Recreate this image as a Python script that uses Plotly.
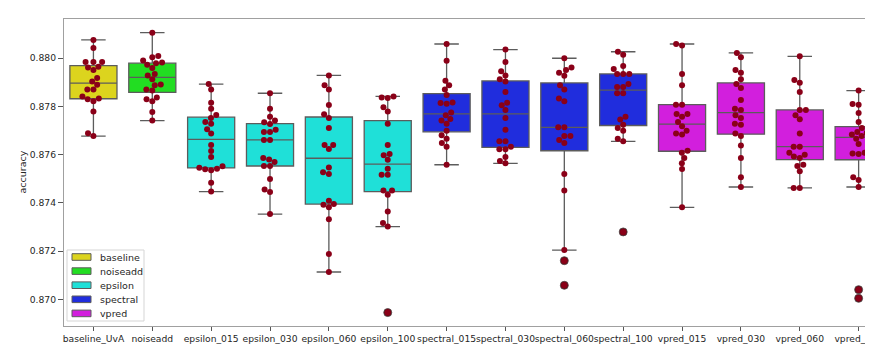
import numpy as np
import plotly.graph_objects as go

categories = ["baseline_UvA", "noiseadd", "epsilon_015", "epsilon_030", "epsilon_060", "epsilon_100",
              "spectral_015", "spectral_030", "spectral_060", "spectral_100",
              "vpred_015", "vpred_030", "vpred_060", "vpred_100"]
groups = ["baseline", "noiseadd", "epsilon", "epsilon", "epsilon", "epsilon",
          "spectral", "spectral", "spectral", "spectral",
          "vpred", "vpred", "vpred", "vpred"]
legend_groups = ["baseline", "noiseadd", "epsilon", "spectral", "vpred"]
group_colors = {"baseline": "#dcd41e", "noiseadd": "#22dd22", "epsilon": "#1fe0d8",
                "spectral": "#202ddd", "vpred": "#d21fdd"}

baseline_uva = [0.88075, 0.88041, 0.87983, 0.87983, 0.87983, 0.87964, 0.87961, 0.87950, 0.87917, 0.87903,
                0.87889, 0.87870, 0.87870, 0.87841, 0.87832, 0.87829, 0.87821, 0.87779, 0.87688, 0.87677]
noiseadd = [0.88105, 0.88008, 0.88003, 0.87990, 0.87981, 0.87978, 0.87972, 0.87959, 0.87934, 0.87928,
            0.87912, 0.87890, 0.87887, 0.87870, 0.87865, 0.87837, 0.87829, 0.87821, 0.87776, 0.87741]
epsilon_015 = [0.87892, 0.87870, 0.87815, 0.87790, 0.87764, 0.87752, 0.87735, 0.87728, 0.87705, 0.87687,
               0.87640, 0.87615, 0.87590, 0.87552, 0.87546, 0.87539, 0.87535, 0.87542, 0.87484, 0.87447]
epsilon_030 = [0.87854, 0.87790, 0.87757, 0.87741, 0.87734, 0.87727, 0.87703, 0.87694, 0.87694, 0.87661,
               0.87661, 0.87586, 0.87580, 0.87569, 0.87553, 0.87553, 0.87499, 0.87456, 0.87445, 0.87354]
epsilon_060 = [0.87928, 0.87887, 0.87870, 0.87805, 0.87767, 0.87752, 0.87710, 0.87640, 0.87640, 0.87623,
               0.87547, 0.87527, 0.87520, 0.87409, 0.87396, 0.87393, 0.87382, 0.87332, 0.87189, 0.87114]
epsilon_100 = [0.87841, 0.87837, 0.87834, 0.87796, 0.87779, 0.87728, 0.87640, 0.87603, 0.87597, 0.87579,
               0.87542, 0.87517, 0.87517, 0.87451, 0.87451, 0.87434, 0.87365, 0.87317, 0.87302, 0.86946]
spectral_015 = [0.88058, 0.87989, 0.87906, 0.87887, 0.87870, 0.87847, 0.87816, 0.87814, 0.87811, 0.87774,
                0.87763, 0.87747, 0.87741, 0.87728, 0.87699, 0.87680, 0.87666, 0.87648, 0.87633, 0.87558]
spectral_030 = [0.88035, 0.87983, 0.87945, 0.87928, 0.87912, 0.87903, 0.87859, 0.87815, 0.87804, 0.87785,
                0.87752, 0.87703, 0.87655, 0.87655, 0.87633, 0.87622, 0.87622, 0.87590, 0.87574, 0.87564]
spectral_060 = [0.87999, 0.87961, 0.87950, 0.87939, 0.87927, 0.87887, 0.87870, 0.87832, 0.87821, 0.87713,
                0.87713, 0.87677, 0.87677, 0.87661, 0.87648, 0.87520, 0.87451, 0.87205, 0.87161, 0.87059]
spectral_100 = [0.88026, 0.88014, 0.87967, 0.87954, 0.87934, 0.87934, 0.87934, 0.87892, 0.87880, 0.87880,
                0.87854, 0.87854, 0.87757, 0.87745, 0.87724, 0.87710, 0.87699, 0.87666, 0.87655, 0.87280]
vpred_015 = [0.88058, 0.88052, 0.87934, 0.87887, 0.87807, 0.87807, 0.87768, 0.87768, 0.87757, 0.87735,
             0.87717, 0.87699, 0.87687, 0.87683, 0.87616, 0.87608, 0.87586, 0.87564, 0.87540, 0.87382]
vpred_030 = [0.88021, 0.88003, 0.87950, 0.87939, 0.87912, 0.87892, 0.87876, 0.87826, 0.87790, 0.87785,
             0.87763, 0.87752, 0.87728, 0.87724, 0.87687, 0.87677, 0.87638, 0.87586, 0.87506, 0.87466]
vpred_060 = [0.88007, 0.87909, 0.87898, 0.87859, 0.87785, 0.87785, 0.87763, 0.87746, 0.87687, 0.87633,
             0.87633, 0.87608, 0.87600, 0.87592, 0.87586, 0.87558, 0.87553, 0.87531, 0.87462, 0.87462]
vpred_100 = [0.87865, 0.87810, 0.87807, 0.87772, 0.87735, 0.87710, 0.87694, 0.87690, 0.87683, 0.87677,
             0.87666, 0.87644, 0.87608, 0.87605, 0.87603, 0.87506, 0.87495, 0.87466, 0.87041, 0.87005]

series = [baseline_uva, noiseadd, epsilon_015, epsilon_030, epsilon_060, epsilon_100,
          spectral_015, spectral_030, spectral_060, spectral_100,
          vpred_015, vpred_030, vpred_060, vpred_100]

y_ticks = [0.870, 0.872, 0.874, 0.876, 0.878, 0.880]

# ---------------- layout geometry ----------------
W, H = 873, 344
ML, MR, MT, MB = 56, 0, 11, 26
PW, PH = W - ML - MR, H - MT - MB
x_range = [-0.5, 13.38]
y_range = [0.868905, 0.881615]
px_per_x = PW / (x_range[1] - x_range[0])
px_per_y = PH / (y_range[1] - y_range[0])
DOT = 5.8  # swarm point diameter in px


def beeswarm(values, d):
    """Seaborn-like swarm placement: returns x offsets in px."""
    vals = np.asarray(values, dtype=float) * px_per_y
    order = np.argsort(vals, kind="stable")
    placed = []
    offs = np.zeros(len(vals))
    for idx in order:
        y = vals[idx]
        neigh = [(px, py) for (px, py) in placed if abs(py - y) < d]
        cands = [0.0]
        for (px, py) in neigh:
            dy = y - py
            dx = np.sqrt(max(d * d - dy * dy, 0)) * 1.05
            cands += [px - dx, px + dx]
        cands.sort(key=lambda c: abs(c))
        chosen = 0.0
        for c in cands:
            if all((c - px) ** 2 + (y - py) ** 2 >= d * d * 0.999 for (px, py) in neigh):
                chosen = c
                break
        placed.append((chosen, y))
        offs[idx] = chosen
    return offs


fig = go.Figure()
edge = "#5c5c5c"
for i, (cat, grp, vals) in enumerate(zip(categories, groups, series)):
    v = np.asarray(vals)
    q1, med, q3 = np.percentile(v, [25, 50, 75])
    iqr = q3 - q1
    lo = v[v >= q1 - 1.5 * iqr].min()
    hi = v[v <= q3 + 1.5 * iqr].max()
    fig.add_trace(go.Box(
        x=[i], q1=[q1], median=[med], q3=[q3], lowerfence=[lo], upperfence=[hi],
        width=0.8, whiskerwidth=0.52, fillcolor=group_colors[grp],
        line=dict(color=edge, width=1.3), name=grp,
        showlegend=False, hoverinfo="skip", boxpoints=False,
    ))
    out = v[(v < lo) | (v > hi)]
    if len(out):
        fig.add_trace(go.Scatter(
            x=[i] * len(out), y=out, mode="markers", showlegend=False, hoverinfo="skip",
            marker=dict(size=8, color="#6e0010", line=dict(color="#4a4a4a", width=0.8)),
        ))

for i, vals in enumerate(series):
    offs = beeswarm(vals, DOT) / px_per_x
    fig.add_trace(go.Scatter(
        x=i + offs, y=vals, mode="markers", showlegend=False, hoverinfo="skip",
        marker=dict(size=6, color="#8a0018", line=dict(width=0)),
    ))

font_family = "DejaVu Sans"
txt_color = "#262626"

# ---- manual legend (matplotlib style), positioned in paper coords ----
shapes = []
annotations = []
def px2paper_x(px):
    return (px - ML) / PW
def px2paper_y(py):
    return (H - MB - py) / PH

leg_left, leg_top, leg_right, leg_bottom = 59, 242, 136, 313
shapes.append(dict(type="rect", xref="paper", yref="paper",
                   x0=px2paper_x(leg_left), x1=px2paper_x(leg_right),
                   y0=px2paper_y(leg_bottom), y1=px2paper_y(leg_top),
                   fillcolor="rgba(255,255,255,0.85)", line=dict(color="#d5d5d5", width=1)))
row_h = 14.1
first_y = 249
for k, g in enumerate(legend_groups):
    cy = first_y + k * row_h
    shapes.append(dict(type="rect", xref="paper", yref="paper",
                       x0=px2paper_x(64), x1=px2paper_x(83),
                       y0=px2paper_y(cy + 3.3), y1=px2paper_y(cy - 3.3),
                       fillcolor=group_colors[g], line=dict(color=edge, width=1)))
    annotations.append(dict(text=g, xref="paper", yref="paper",
                            x=px2paper_x(90), y=px2paper_y(cy), xanchor="left", yanchor="middle",
                            showarrow=False, font=dict(size=9.5, family=font_family, color=txt_color)))

annotations += [
    dict(text="model", xref="paper", yref="paper", x=0.503, y=0, yanchor="top",
         yshift=-17, showarrow=False, font=dict(size=9.5, family=font_family, color=txt_color)),
    dict(text="accuracy", xref="paper", yref="paper", x=0, y=0.5, xanchor="center",
         xshift=-42, textangle=-90, showarrow=False,
         font=dict(size=9.5, family=font_family, color=txt_color)),
]

fig.update_layout(
    width=W, height=H,
    margin=dict(l=ML, r=MR, t=MT, b=MB, pad=0),
    paper_bgcolor="white", plot_bgcolor="white",
    font=dict(family=font_family, size=9, color=txt_color),
    showlegend=False,
    xaxis=dict(range=x_range, tickmode="array", tickvals=list(range(len(categories))),
               ticktext=categories, tickangle=0, ticklabeloverflow="allow",
               showgrid=False, zeroline=False,
               showline=True, linecolor="#a0a0a0", linewidth=1.2, mirror=True,
               ticks="outside", ticklen=4, tickcolor="#555555", tickwidth=1,
               tickfont=dict(size=9.2, family=font_family, color=txt_color), automargin=False),
    yaxis=dict(range=y_range, tickmode="array", tickvals=y_ticks,
               ticktext=[f"{t:.3f}" for t in y_ticks], showgrid=False, zeroline=False,
               showline=True, linecolor="#a0a0a0", linewidth=1.2,
               ticks="outside", ticklen=5, tickcolor="#555555", tickwidth=1,
               tickfont=dict(size=9.2, family=font_family, color=txt_color), automargin=False),
    shapes=shapes,
    annotations=annotations,
)

fig.write_html("out.html")
